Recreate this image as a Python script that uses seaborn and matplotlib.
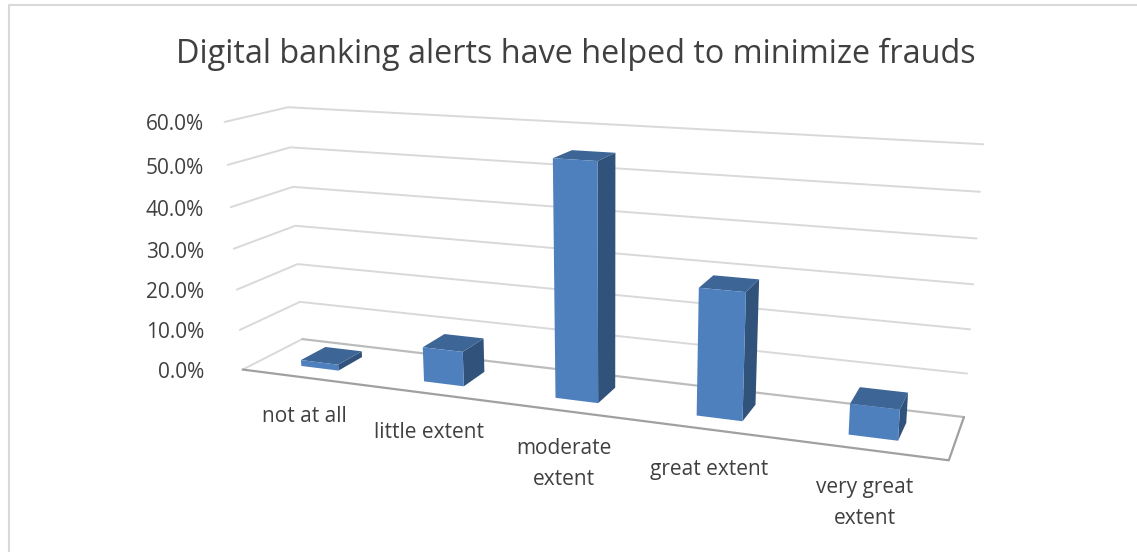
import numpy as np
import pandas as pd
import matplotlib
matplotlib.use('Agg')
import matplotlib.pyplot as plt
import seaborn as sns
from matplotlib.patches import Polygon
from matplotlib.transforms import IdentityTransform, Transform

W, H = 1137, 552

categories = ['not at all', 'little extent', 'moderate\nextent', 'great extent', 'very great\nextent']
shares = [1.5, 8.4, 55.0, 29.0, 6.9]
y_ticks = [0, 10, 20, 30, 40, 50, 60]

# wall/floor corners: (category pos, depth, share) -> pixel
# used to fit the 3d camera of the excel chart
calib_world = []
calib_pix = []
back_left = [(302, 339), (300, 302), (298, 264), (296, 226), (293, 187), (290, 147), (288, 107)]
back_right = [(964, 417), (967, 374), (970, 329), (973, 285), (977, 238), (980, 192), (983, 144)]
front_left = [(242, 369), (240, 330), (237, 290), (234, 249), (231, 207), (227, 165), (225, 122)]
for t, a, b, c in zip(y_ticks, back_left, back_right, front_left):
    calib_world += [(0, 1, t), (5, 1, t), (0, 0, t)]
    calib_pix += [a, b, c]
calib_world.append((5, 0, 0))
calib_pix.append((949, 460))


def fit_camera(world, pix):
    rows = []
    for (x, d, z), (u, v) in zip(world, pix):
        p = [x, d, z / 10, 1]
        rows.append(p + [0, 0, 0, 0] + [-u / 1000 * c for c in p])
        rows.append([0, 0, 0, 0] + p + [-v / 1000 * c for c in p])
    return np.linalg.svd(np.array(rows, dtype=float))[2][-1].reshape(3, 4)


CAM = fit_camera(calib_world, calib_pix)
X_SHIFT = 0.508  # bars sit a touch right of the category centre


def project(x, d, z):
    x, d, z = np.broadcast_arrays(np.asarray(x, float), np.asarray(d, float), np.asarray(z, float))
    p = np.stack([x, d, z / 10, np.ones_like(x)], axis=-1)
    q = p @ CAM.T
    u = q[..., 0] / q[..., 2] * 1000
    v = q[..., 1] / q[..., 2] * 1000
    return np.stack([u, H - v], axis=-1)


class FrontFace(Transform):
    # maps barplot data (x, share) on to the front plane of the bars
    input_dims = 2
    output_dims = 2

    def __init__(self, plane):
        super().__init__()
        self.plane = plane

    def transform_non_affine(self, values):
        values = np.asarray(values)
        return project(values[:, 0] + X_SHIFT, self.plane, values[:, 1])


sns.set_theme(style='white')
plt.rcParams['font.family'] = ['Open Sans', 'DejaVu Sans']

fig = plt.figure(figsize=(W / 100, H / 100), dpi=100, facecolor='white')
ax = fig.add_axes([0, 0, 1, 1])

FRONT = '#4e80be'
TOP = '#3d6595'
SIDE = '#30527b'
D0, D1 = 0.275, 0.70
BAR_W = 0.31

df = pd.DataFrame({'category': categories, 'share': shares})
sns.barplot(data=df, x='category', y='share', color=FRONT, saturation=1, width=BAR_W, ax=ax, zorder=5)
ax.set_axis_off()

px = IdentityTransform()
grid = '#d9d9d9'

# chart frame, only left and top are inside the crop
ax.plot([8.5, 8.5, W], [0, H - 5, H - 5], color=grid, lw=1.5, transform=px, clip_on=False)

# walls
for t in y_ticks[1:]:
    pts = project([0, 0, 5], [0, 1, 1], t)
    ax.plot(pts[:, 0], pts[:, 1], color=grid, lw=1.4, transform=px, zorder=1)
pts = project([0, 0], [0, 1], 0)
ax.plot(pts[:, 0], pts[:, 1], color=grid, lw=1.4, transform=px, zorder=1)
pts = project([0, 5], [1, 1], 0)
ax.plot(pts[:, 0], pts[:, 1], color='#bcbcbc', lw=1.6, transform=px, zorder=2)
pts = project([5, 5, 0], [1, 0, 0], 0)
ax.plot(pts[:, 0], pts[:, 1], color='#a0a0a0', lw=1.6, transform=px, zorder=2)

# bars: front faces come from seaborn, sides and tops follow from the same rectangles
front = FrontFace(D0)
for bar in ax.patches:
    x0 = bar.get_x() + X_SHIFT
    x1 = x0 + bar.get_width()
    h = bar.get_height()
    bar.set_transform(front)
    bar.set_edgecolor('none')
    side = project([x1, x1, x1, x1], [D0, D1, D1, D0], [0, 0, h, h])
    top = project([x0, x1, x1, x0], [D0, D0, D1, D1], h)
    ax.add_patch(Polygon(side, closed=True, fc=SIDE, ec='none', transform=px, zorder=4))
    ax.add_patch(Polygon(top, closed=True, fc=TOP, ec='none', transform=px, zorder=4))

ink = '#404040'
tick_pos = [372, 332, 292, 252, 210, 168, 125]
for t, yp in zip(y_ticks, tick_pos):
    ax.text(204, H - yp, f'{t:.1f}%', ha='right', va='center', fontsize=15, color=ink, transform=px)

label_pos = [(304, 416), (429, 433), (564, 464), (709, 470), (865, 503)]
for lab, (xp, yp) in zip(categories, label_pos):
    ax.text(xp, H - yp, lab, ha='center', va='center', fontsize=15, color=ink, linespacing=1.62, transform=px)

ax.text(576, H - 54, 'Digital banking alerts have helped to minimize frauds', ha='center', va='center',
        fontsize=23.3, color=ink, transform=px)

fig.savefig('out.png', dpi=100, facecolor='white')
